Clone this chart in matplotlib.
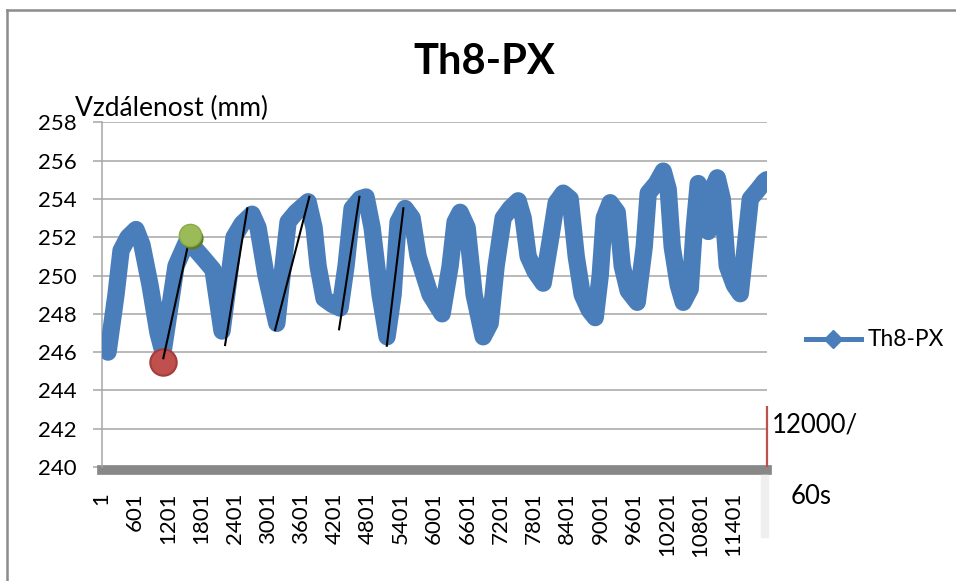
import matplotlib
matplotlib.use("Agg")
import matplotlib.pyplot as plt
from matplotlib.lines import Line2D
from matplotlib.patches import Rectangle

plt.rcParams['font.family'] = ['Lato', 'DejaVu Sans']

# ---- data ----
sample_idx = [1, 115, 259, 350, 476, 620, 728, 873, 1017, 1108, 1342, 1540, 1685,
              1865, 2010, 2172, 2280, 2389, 2533, 2714, 2822, 2966, 3160, 3255,
              3364, 3508, 3725, 3833, 3905, 4013, 4158, 4302, 4410, 4519, 4663,
              4771, 4880, 5024, 5150, 5259, 5349, 5475, 5602, 5710, 5927, 6143,
              6288, 6378, 6468, 6595, 6721, 6884, 7010, 7118, 7245, 7371, 7515,
              7606, 7696, 7822, 7967, 8093, 8202, 8328, 8454, 8563, 8671, 8797,
              8906, 8996, 9068, 9176, 9303, 9393, 9501, 9664, 9790, 9862, 10007,
              10133, 10223, 10295, 10404, 10494, 10620, 10693, 10765, 10873,
              10945, 11017, 11108, 11198, 11288, 11415, 11523, 11613, 11704,
              11848, 11956, 12000]
distance_mm = [246.6, 246.0, 249.0, 251.3, 252.0, 252.4, 251.6, 249.5, 247.0, 246.0,
               250.5, 251.8, 251.4, 250.8, 250.3, 247.1, 249.5, 252.0, 252.7, 253.2,
               252.5, 250.0, 247.5, 250.0, 252.8, 253.3, 253.85, 252.5, 250.5, 248.8,
               248.5, 248.3, 250.5, 253.5, 254.0, 254.1, 252.5, 249.0, 246.8, 249.0,
               252.8, 253.5, 253.0, 251.0, 249.0, 248.0, 250.5, 252.8, 253.3, 252.5,
               249.0, 246.8, 247.5, 250.5, 253.0, 253.5, 253.9, 253.0, 251.0, 250.2,
               249.6, 251.8, 253.8, 254.3, 254.0, 251.0, 249.0, 248.2, 247.8, 250.0,
               253.0, 253.8, 253.3, 250.5, 249.2, 248.6, 251.5, 254.3, 254.8, 255.45,
               254.5, 251.5, 249.5, 248.6, 249.3, 252.5, 254.8, 253.8, 252.3, 254.5,
               255.1, 254.0, 250.5, 249.5, 249.05, 251.5, 254.0, 254.5, 254.9, 255.0]

tick_positions = list(range(1, 11402, 600))
tick_labels = [str(v) for v in tick_positions]
y_ticks = list(range(240, 259, 2))

# hand-drawn annotation lines: (x0, y0, x1, y1)
line_x0 = [1113, 2227, 3129, 4284, 5145]
line_y0 = [245.68, 246.37, 247.15, 247.19, 246.33]
line_x1 = [1546, 2629, 3748, 4651, 5445]
line_y1 = [251.42, 253.51, 254.11, 254.11, 253.51]

red_point = (1113, 245.5)
green_point = (1595, 252.1)

series_name = "Th8-PX"
title = "Th8-PX"
y_label = "Vzdálenost (mm)"

# ---- figure ----
fig = plt.figure(figsize=(9.56, 5.81), dpi=100)
ax = fig.add_axes([0.10638, 0.19621, 0.69561, 0.59329])

blue = '#4a7ebb'
grid_c = '#a6a6a6'

ax.plot(sample_idx, distance_mm, color=blue, lw=12.5,
        solid_joinstyle='round', solid_capstyle='round', zorder=3)

ax.plot([red_point[0]], [red_point[1]], 'o', ms=19, color='#c0504d',
        mec='#a33d3a', mew=1.5, zorder=4)

for x0, y0, x1, y1 in zip(line_x0, line_y0, line_x1, line_y1):
    ax.plot([x0, x1], [y0, y1], color='black', lw=1.5, zorder=5)

# green sphere with darker shadow
ax.plot([green_point[0] + 40], [green_point[1] - 0.15], 'o', ms=16,
        color='#5f7a2c', mew=0, zorder=6)
ax.plot([green_point[0]], [green_point[1]], 'o', ms=16, color='#9bbb59',
        mec='#8aaa48', mew=1, zorder=7)

ax.set_xlim(1, 12000)
ax.set_ylim(240, 258)
ax.set_yticks(y_ticks)
ax.set_xticks(tick_positions)
ax.set_xticklabels(tick_labels)

ax.grid(axis='y', color=grid_c, lw=1.1)
ax.set_axisbelow(True)

for s in ['top', 'right']:
    ax.spines[s].set_visible(False)
ax.spines['left'].set_color(grid_c)
ax.spines['left'].set_linewidth(1.1)
ax.spines['bottom'].set_color('#888888')
ax.spines['bottom'].set_linewidth(7)
ax.spines['bottom'].set_position(('outward', 2))
ax.spines['bottom'].set_zorder(2)

ax.tick_params(axis='y', length=6.5, width=1.1, color=grid_c,
               labelsize=16, pad=11.5, labelcolor='black')
ax.tick_params(axis='x', length=0, pad=16, labelsize=16, labelcolor='black',
               labelrotation=90)

# red vertical marker at right end
ax.vlines(12000, 240, 243.2, color='#c0504d', lw=1.6, zorder=8, clip_on=False)

# texts
fig.text(0.507, 1 - 62 / 581, title, ha='center', va='center',
         fontsize=30, fontweight='bold')
fig.text(75 / 956, 1 - 108 / 581, y_label, ha='left', va='center', fontsize=19)
fig.text(772 / 956, 1 - 425 / 581, "12000/", ha='left', va='center', fontsize=18.5)
fig.text(791 / 956, 1 - 497 / 581, "60s", ha='left', va='center', fontsize=18.5)

# light strip under the axis end
fig.patches.append(Rectangle((761 / 956, 1 - 537 / 581), 7 / 956, 62 / 581,
                             transform=fig.transFigure, color='#efefef', zorder=0))

# legend
handle = Line2D([], [], color=blue, lw=3.6, marker='D', ms=9)
fig.legend([handle], [series_name], loc='center left',
           bbox_to_anchor=(806 / 956, 1 - 340 / 581), frameon=False,
           fontsize=16.4, handlelength=2.4, handletextpad=0.3,
           borderpad=0, borderaxespad=0)

# chart border (top and left visible)
fig.add_artist(Line2D([7 / 956, 7 / 956], [0, 1 - 10 / 581], transform=fig.transFigure,
                      color='#8c8c8c', lw=1.8))
fig.add_artist(Line2D([7 / 956, 1], [1 - 10 / 581, 1 - 10 / 581], transform=fig.transFigure,
                      color='#8c8c8c', lw=1.8))

fig.savefig('out.png', dpi=100)
